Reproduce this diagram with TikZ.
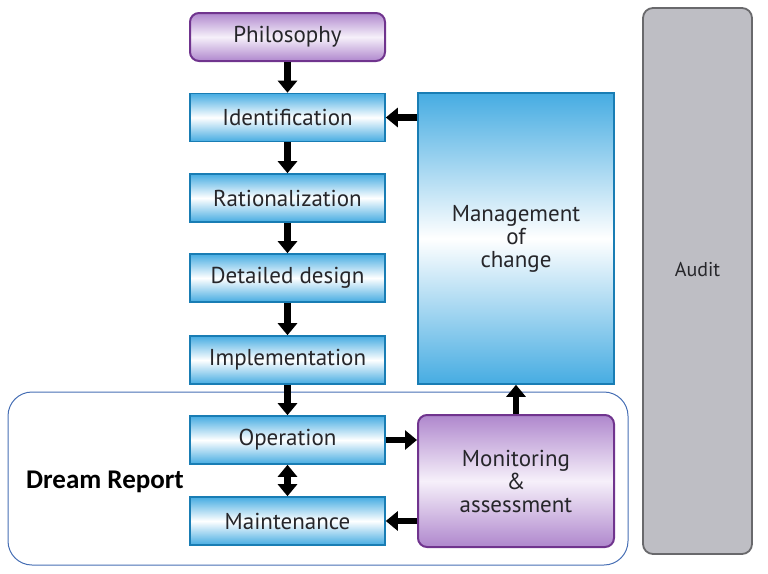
\documentclass[tikz,border=0pt]{standalone}
\usepackage{fontspec}
\setmainfont{PT Sans}
\newfontfamily\drfont{Carlito}
\usetikzlibrary{arrows.meta}
\definecolor{bluebd}{RGB}{25,125,180}
\definecolor{bluefill}{RGB}{70,172,226}
\definecolor{purpbd}{RGB}{112,52,142}
\definecolor{purpfill}{RGB}{175,135,205}
\definecolor{purplight}{RGB}{246,240,250}
\definecolor{graybd}{RGB}{105,105,108}
\definecolor{grayfill}{RGB}{190,190,196}
\definecolor{txt}{RGB}{38,38,42}
\definecolor{frame}{RGB}{70,110,180}
\tikzset{
  x=1pt, y=-1pt,
  every node/.style={font=\fontsize{23}{23}\selectfont, text=txt, inner sep=0pt, align=center},
  bluebox/.style={draw=bluebd, line width=1.6pt, top color=bluefill, bottom color=bluefill, middle color=white, minimum width=195pt, minimum height=48pt},
  purpbox/.style={draw=purpbd, line width=2pt, rounded corners=9pt, top color=purpfill, bottom color=purpfill, middle color=purplight},
  graybox/.style={draw=graybd, line width=1.8pt, rounded corners=10pt, fill=grayfill},
  flow/.style={line width=6.5pt, -{Triangle[width=19pt,length=12pt]}},
  flowboth/.style={line width=6.5pt, {Triangle[width=19pt,length=12pt]}-{Triangle[width=19pt,length=12pt]}},
}
\begin{document}
\begin{tikzpicture}
\useasboundingbox (0,0) rectangle (768,573);
% Dream Report frame
\node[draw=frame, line width=1pt, rounded corners=24pt, minimum width=620pt, minimum height=173pt] (dream) at (318,478.5) {};
\node[font=\drfont\bfseries\fontsize{27}{29}\selectfont, text=black] (drlabel) at (105,482) {Dream Report};
% left column
\node[purpbox, minimum width=195pt, minimum height=48pt] (phil) at (287.5,37) {Philosophy};
\node[bluebox] (ident) at (287.5,117.5) {Identification};
\node[bluebox] (ratio) at (287.5,198) {Rationalization};
\node[bluebox] (detail) at (287.5,278) {Detailed design};
\node[bluebox] (impl) at (287.5,360) {Implementation};
\node[bluebox] (oper) at (287.5,440) {Operation};
\node[bluebox] (maint) at (287.5,521) {Maintenance};
% right column
\node[bluebox, minimum width=196pt, minimum height=291pt] (moc) at (516,238.5) {Management\\of\\change};
\node[purpbox, minimum width=196pt, minimum height=132pt] (mon) at (516,481) {Monitoring\\\&\\assessment};
\node[graybox, minimum width=109pt, minimum height=546pt, font=\fontsize{20}{22}\selectfont] (audit) at (697.5,281) {\raisebox{11pt}[\height][\depth]{Audit}};
% arrows
\draw[flow] (phil) -- (ident);
\draw[flow] (ident) -- (ratio);
\draw[flow] (ratio) -- (detail);
\draw[flow] (detail) -- (impl);
\draw[flow] (impl) -- (oper);
\draw[flowboth] (oper) -- (maint);
\draw[flow] (moc.west |- ident.east) -- (ident.east);
\draw[flow] (oper.east) -- (mon.west |- oper.east);
\draw[flow] (mon.west |- maint.east) -- (maint.east);
\draw[flow] (mon) -- (moc);
\end{tikzpicture}
\end{document}
